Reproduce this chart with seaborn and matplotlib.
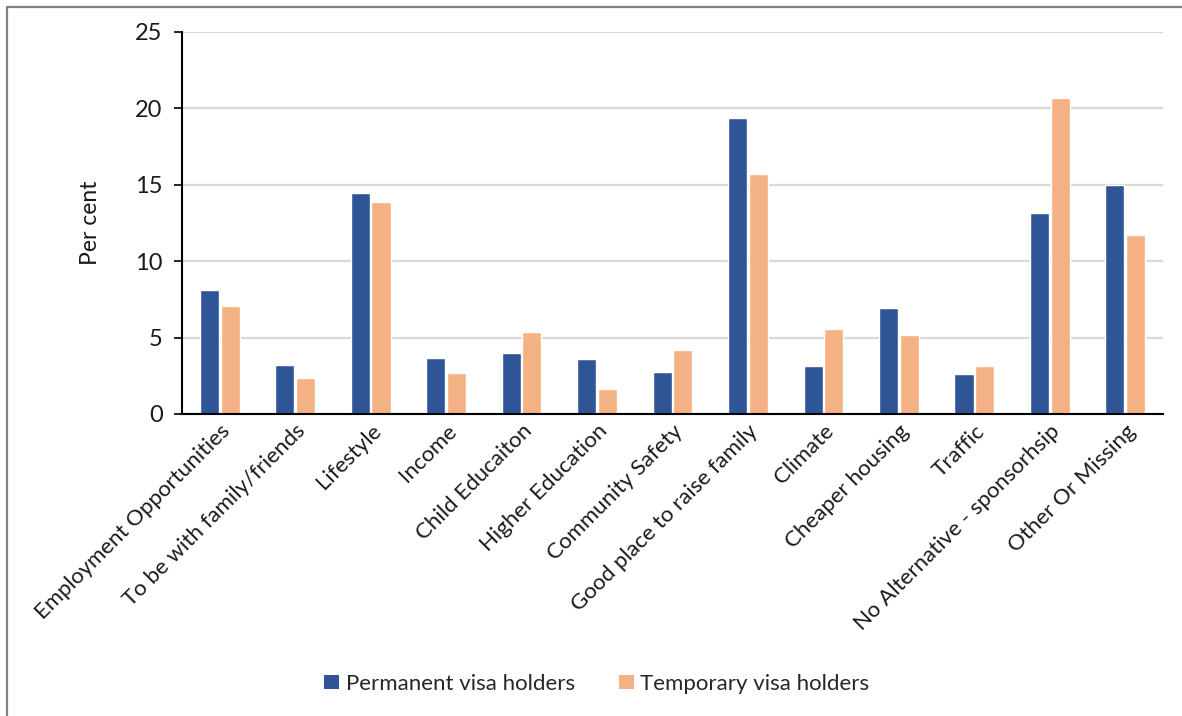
import pandas as pd
import numpy as np
import matplotlib.pyplot as plt
import seaborn as sns
from matplotlib.lines import Line2D
from matplotlib.patches import Patch

# DATA

reasons = ['Employment Opportunities', 'To be with family/friends', 'Lifestyle', 'Income',
           'Child Educaiton', 'Higher Education', 'Community Safety', 'Good place to raise family',
           'Climate', 'Cheaper housing', 'Traffic', 'No Alternative - sponsorhsip', 'Other Or Missing']
permanent = [8.1, 3.2, 14.45, 3.67, 4.02, 3.62, 2.73, 19.37, 3.17, 6.96, 2.65, 13.13, 14.97]
temporary = [7.08, 2.35, 13.86, 2.66, 5.38, 1.66, 4.17, 15.7, 5.55, 5.2, 3.17, 20.66, 11.72]
series = ['Permanent visa holders', 'Temporary visa holders']
colors = ['#2F5597', '#F4B183']

df = pd.DataFrame({'Reason': reasons * 2,
                   'Group': [series[0]] * len(reasons) + [series[1]] * len(reasons),
                   'Value': permanent + temporary})

# PLOTTING

sns.set_style('white')
plt.rcParams['font.family'] = ['Lato', 'DejaVu Sans']
txt_color = '#1a1a1a'

fig = plt.figure(figsize=(11.82, 7.16), dpi=100)
ax = fig.add_axes([182 / 1182, 1 - 414 / 716, (1163 - 182) / 1182, (414 - 32) / 716])

sns.barplot(data=df, x='Reason', y='Value', hue='Group', palette=colors, order=reasons,
            hue_order=series, width=0.55, gap=0.08, ax=ax, legend=False, saturation=1)

ax.set_ylim(0, 25)
ax.set_yticks(range(0, 26, 5))
ax.set_xlim(-0.5, len(reasons) - 0.5)
ax.yaxis.grid(True, color='#D9D9D9', lw=1.6)
ax.set_axisbelow(True)
for s in ['top', 'right']:
    ax.spines[s].set_visible(False)
ax.spines['left'].set_color('black')
ax.spines['left'].set_linewidth(1.5)
ax.spines['bottom'].set_color('black')
ax.spines['bottom'].set_linewidth(1.5)
ax.tick_params(axis='y', which='major', direction='out', length=6, width=1.2, color='black',
               left=True, labelsize=17, pad=8, labelcolor=txt_color)
ax.tick_params(axis='x', length=0, labelsize=16, pad=5, labelcolor=txt_color)
plt.setp(ax.get_xticklabels(), rotation=45, ha='right', rotation_mode='anchor')

ax.set_xlabel('')
ax.set_ylabel('Per cent', fontsize=16.5, color=txt_color)
ax.yaxis.set_label_coords(-(182 - 101) / 981, 0.5)

handles = [Patch(facecolor=c, edgecolor='none') for c in colors]
fig.legend(handles, series, loc='center', bbox_to_anchor=(0.505, 0.045), ncol=2, frameon=False,
           fontsize=16, handlelength=0.65, handleheight=0.65, handletextpad=0.3, columnspacing=2.0)

# figure frame (only top and left edges visible)
x0 = 6.5 / 1182
y1 = 1 - 6.5 / 716
fig.add_artist(Line2D([x0, x0], [0, y1], color='#808080', lw=1.6, transform=fig.transFigure))
fig.add_artist(Line2D([x0, 1], [y1, y1], color='#808080', lw=1.6, transform=fig.transFigure))

plt.savefig('out.png', dpi=100)
